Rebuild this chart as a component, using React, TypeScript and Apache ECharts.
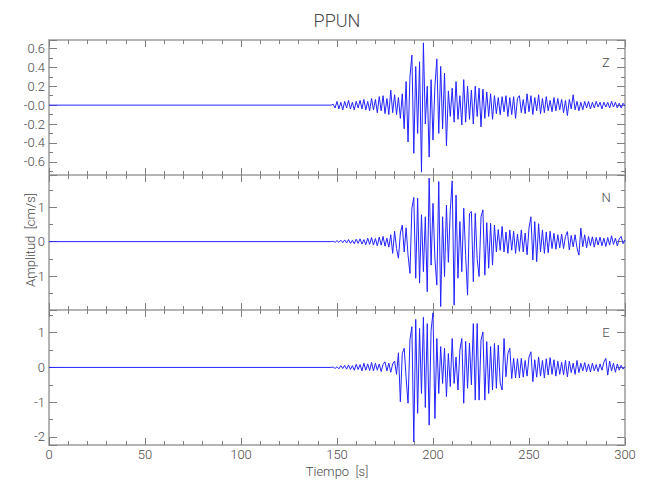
import React, { useEffect, useRef } from "react";
import * as echarts from "echarts";

// time (s) of first sample of each trace; samples are 1 s apart, trace is flat 0 before
const startTime = 148;
const xTicks = [0, 50, 100, 150, 200, 250, 300];

const zValues = [
  0.01, -0.03, 0.04, -0.04, 0.03, -0.05, 0.04, -0.03, 0.05, -0.04, 0.03, -0.05, 0.04,
  -0.03, 0.05, -0.04, 0.06, -0.05, 0.04, -0.06, 0.07, -0.05, 0.06,
  -0.08, 0.09, -0.06, 0.1, -0.09, 0.07, -0.1, 0.16, -0.08, 0.11, -0.1, 0.08, -0.14, 0.12,
  -0.25, 0.25, -0.39, 0.3, 0.53, -0.51, 0.41, -0.3, 0.46, -0.71, 0.66, -0.2, 0.2, -0.55,
  0.27, -0.37, 0.2, 0.49, -0.3, 0.41, -0.25, 0.34, -0.43, 0.15, -0.12, 0.18, -0.18, 0.25,
  -0.15, 0.1, -0.21, 0.27, -0.18, 0.2, -0.15, 0.16, -0.2, 0.2, -0.12, 0.18, -0.23, 0.17,
  -0.14, 0.14, -0.12, 0.12,
  -0.15, 0.1, -0.09, 0.08, -0.1, 0.09, -0.07, 0.1, -0.12, 0.08, -0.1, 0.09, -0.14, 0.07,
  0.1, -0.08, 0.06, -0.09, 0.12, -0.07, 0.1, -0.1, 0.08, -0.06, 0.11, -0.09, 0.07, -0.08,
  0.09, -0.06, 0.05, -0.07, 0.08, -0.06, 0.07, -0.05, 0.06, -0.08, 0.05, -0.11, 0.06,
  -0.04, 0.11, -0.05, 0.04, -0.06, 0.03, -0.05, 0.04, -0.03, 0.04, -0.04, 0.03, -0.03,
  0.04, -0.02, 0.03, -0.04, 0.03, -0.02, 0.03, -0.03, 0.04, -0.02, 0.03, -0.03, 0.02,
  -0.03, 0.02, -0.01,
];

const nValues = [
  0.01, -0.02, 0.03, -0.02, 0.04, -0.03, 0.05, -0.04, 0.06, -0.05, 0.04, -0.06, 0.07,
  -0.05, 0.08, -0.07, 0.06, -0.09, 0.1, -0.08, 0.12, -0.1, 0.09, -0.12, 0.13, -0.1, 0.15,
  -0.13, 0.1, -0.16, 0.2, -0.34, 0.3, -0.2, -0.48, 0.25, 0.48, -0.3, 0.4, -0.39, -0.92,
  0.97, 1.28, -1.06, 1.26, -1.2, 0.78, -0.87, 0.72, -1.45, 1.84, -0.68, 1.11, -0.5, -1.26,
  1.74, -1.88, 0.72, -1.01, 1.06, -0.6, 0.9, 1.76, -1.84, 1.35, -1.06, 0.58, -0.87, 0.97,
  -0.4, -1.55, 0.82, 0.87, -1.16, 0.82, -0.5, -1.01, 0.72, 0.92, -0.97, 0.55, -0.77, 0.53,
  -0.68, 0.48, -0.3, 0.35, -0.25, 0.44, -0.3, 0.28, -0.34, 0.34, -0.25, 0.3, -0.34, 0.22,
  -0.28, 0.34, -0.3, 0.25, -0.38, 0.4, 0.72, -0.53, 0.58, -0.58, 0.52, -0.3, 0.34, -0.34,
  0.28, -0.32, 0.3, -0.2, 0.24, -0.22, 0.2, -0.18, 0.22, -0.2, 0.15, 0.29, -0.24, 0.18,
  -0.15, 0.2, -0.18, -0.39, 0.39, -0.15, 0.2, -0.18, 0.15, -0.12, 0.14, -0.16, 0.12, -0.1,
  0.13, -0.12, 0.1, -0.14, 0.12, -0.1, 0.17, -0.08, 0.1, -0.12, 0.08, 0.15, -0.06, 0.05,
];

const eValues = [
  0.01, -0.03, 0.02, -0.04, 0.05, -0.03, 0.06, -0.05, 0.07, -0.06, 0.05, -0.08, 0.09,
  -0.06, 0.08, -0.1, 0.12, -0.08, 0.1, -0.09, 0.14, -0.1, 0.12, -0.08, 0.1, -0.12, 0.09,
  0.16, -0.1, 0.12, -0.14, 0.1, 0.18, -0.2, 0.42, -0.99, 0.4, 0.55, -0.3, -1.03, 0.8, 1.17,
  -2.14, 1.38, -1.32, 1.12, -0.75, 1.44, -1.15, 1.26, -1.66, 1.07, 1.57, -1.47, 0.83,
  -0.75, 0.6, -0.46, 0.55, -0.84, 0.4, -0.55, 0.83, -0.46, 0.3, -0.65, 0.5, 0.83, -1.03,
  0.75, -0.6, 0.7, -0.5, 1.26, -0.94, 1.26, -0.94, 0.78, 1.02, -0.94, 0.74, -0.75, 0.6,
  -0.65, 0.69, -0.6, 0.64, -0.45, -0.65, 0.83, -0.27, 0.4, 0.55, -0.32, 0.26, -0.3, 0.25,
  -0.3, 0.26, -0.28, 0.2, -0.25, 0.3, 0.45, -0.41, 0.22, -0.28, 0.3, -0.25, 0.2, -0.3,
  0.25, -0.22, 0.28, -0.2, 0.22, -0.25, 0.18, -0.2, 0.15, -0.22, 0.2, -0.27, 0.18, -0.15,
  0.12, -0.2, 0.2, -0.15, 0.12, -0.1, 0.14, -0.12, 0.1, -0.13, 0.12, -0.1, 0.08, -0.12,
  0.1, -0.08, 0.15, 0.26, -0.22, 0.18, -0.1, 0.12, -0.14, 0.1, -0.08, 0.06, -0.05, 0.02,
];

const channels = ["Z", "N", "E"];
const traces = [zValues, nValues, eValues];
const yRanges = [
  [-0.74, 0.69],
  [-1.98, 1.93],
  [-2.23, 1.65],
];
const ySplit = [7, 4, 4];
const yMinorSplit = [2, 2, 2];

const FONT = "Roboto, 'Liberation Sans', sans-serif";
const TEXT = "#4a4a4a";
const FRAME = "#b4b4b4";
const TICK = "#808080";

function buildData(values: number[]) {
  const d: [number, number][] = [
    [0, 0],
    [startTime - 1, 0],
  ];
  values.forEach((v, i) => d.push([startTime + i, v]));
  return d;
}

export default function App() {
  const ref = useRef<HTMLDivElement>(null);
  useEffect(() => {
    document.body.style.margin = "0";
    if (!ref.current) return;
    const chart = echarts.init(ref.current, undefined, { renderer: "svg" });
    const panelTop = [40, 175, 310];
    const grids = panelTop.map((t) => ({ left: 49, right: 25, top: t, height: 135 }));
    const xAxes: any[] = [];
    const yAxes: any[] = [];
    const series: any[] = [];
    panelTop.forEach((_, g) => {
      const common = {
        gridIndex: g,
        type: "value",
        min: 0,
        max: 300,
        interval: xTicks[1] - xTicks[0],
        axisLine: { show: true, onZero: false, lineStyle: { color: FRAME, width: 2 } },
        axisTick: { show: true, inside: true, length: 7, lineStyle: { color: TICK } },
        minorTick: { show: true, splitNumber: 5, length: 4, lineStyle: { color: TICK } },
        splitLine: { show: false },
      };
      xAxes.push({
        ...common,
        position: "bottom",
        axisLabel: {
          show: g === 2,
          color: TEXT,
          fontFamily: FONT,
          fontWeight: 300,
          fontSize: 13,
          margin: 3,
        },
        name: g === 2 ? "Tiempo  [s]" : "",
        nameLocation: "middle",
        nameGap: 20,
        nameTextStyle: { color: TEXT, fontFamily: FONT, fontWeight: 300, fontSize: 13 },
      });
      xAxes.push({ ...common, position: "top", axisLabel: { show: false } });
      const ycommon = {
        gridIndex: g,
        type: "value",
        min: yRanges[g][0],
        max: yRanges[g][1],
        splitNumber: ySplit[g],
        axisLine: { show: true, onZero: false, lineStyle: { color: FRAME, width: 2 } },
        axisTick: { show: true, inside: true, length: 8, lineStyle: { color: TICK } },
        minorTick: { show: true, splitNumber: yMinorSplit[g], length: 4, lineStyle: { color: TICK } },
        splitLine: { show: false },
      };
      yAxes.push({
        ...ycommon,
        position: "left",
        axisLabel: {
          show: true,
          showMinLabel: false,
          showMaxLabel: false,
          color: TEXT,
          fontFamily: FONT,
          fontWeight: 300,
          fontSize: 13,
          margin: 4,
          formatter: (v: number) => {
            if (g === 0) return v === 0 ? "-0.0" : v.toFixed(1);
            return String(Math.round(v));
          },
        },
      });
      yAxes.push({ ...ycommon, position: "right", axisLabel: { show: false } });
      series.push({
        type: "line",
        xAxisIndex: 2 * g,
        yAxisIndex: 2 * g,
        data: buildData(traces[g]),
        showSymbol: false,
        symbol: "none",
        lineStyle: { color: "#2323ff", width: 1 },
        silent: true,
        clip: true,
      });
    });

    chart.setOption({
      animation: false,
      grid: grids,
      xAxis: xAxes,
      yAxis: yAxes,
      series,
      graphic: [
        {
          type: "text",
          x: 337,
          y: 20,
          style: {
            text: "PPUN",
            fill: TEXT,
            font: `300 18px ${FONT}`,
            align: "center",
            verticalAlign: "middle",
          },
        },
        ...channels.map((c, g) => ({
          type: "text",
          x: 606,
          y: panelTop[g] + 22,
          style: { text: c, fill: TEXT, font: `300 13px ${FONT}`, align: "center", verticalAlign: "middle" },
        })),
        {
          type: "text",
          x: 30,
          y: 240,
          rotation: Math.PI / 2,
          style: {
            text: "Amplitud  [cm/s]",
            fill: TEXT,
            font: `300 13px ${FONT}`,
            align: "center",
            verticalAlign: "middle",
          },
        },
      ],
    });
    return () => chart.dispose();
  }, []);
  return <div ref={ref} style={{ width: 650, height: 500 }} />;
}
